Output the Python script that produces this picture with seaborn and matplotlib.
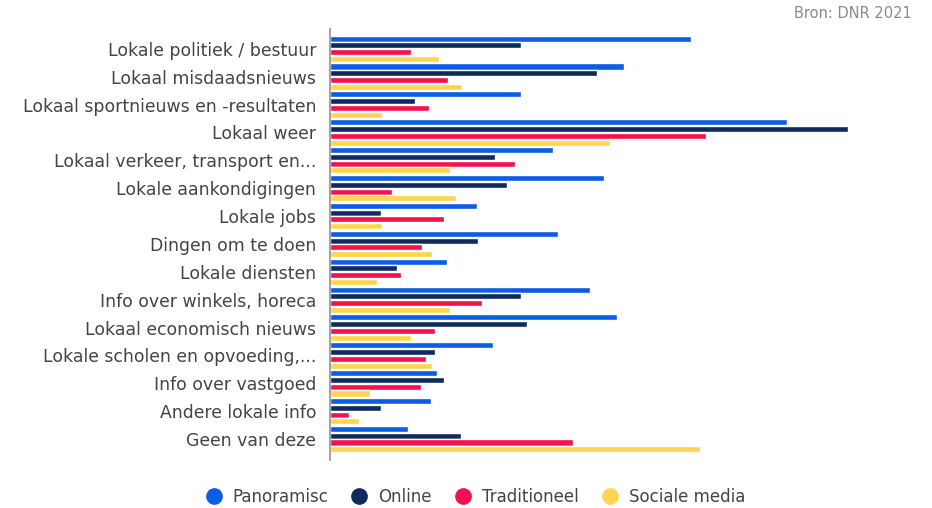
import numpy as np
import pandas as pd
import matplotlib.pyplot as plt
import seaborn as sns
from matplotlib.lines import Line2D

# Categories and values (relative scale, no axis shown)
categories = [
    "Lokale politiek / bestuur",
    "Lokaal misdaadsnieuws",
    "Lokaal sportnieuws en -resultaten",
    "Lokaal weer",
    "Lokaal verkeer, transport en...",
    "Lokale aankondigingen",
    "Lokale jobs",
    "Dingen om te doen",
    "Lokale diensten",
    "Info over winkels, horeca",
    "Lokaal economisch nieuws",
    "Lokale scholen en opvoeding,...",
    "Info over vastgoed",
    "Andere lokale info",
    "Geen van deze",
]
series = ["Panoramisc", "Online", "Traditioneel", "Sociale media"]

panoramisc = [361, 294, 191, 457, 223, 274, 147, 228, 117, 260, 287, 163, 107, 101, 78]
online = [191, 267, 85, 518, 165, 177, 51, 148, 67, 191, 197, 105, 114, 51, 131]
traditioneel = [81, 118, 99, 376, 185, 62, 114, 92, 71, 152, 105, 96, 91, 19, 243]
sociale_media = [109, 132, 52, 280, 120, 126, 52, 102, 47, 120, 81, 102, 40, 29, 370]

colors = ["#0B5CE6", "#0F2A5E", "#F5104E", "#FFD54D"]

df = pd.DataFrame({
    "categorie": categories * 4,
    "kanaal": np.repeat(series, len(categories)),
    "waarde": panoramisc + online + traditioneel + sociale_media,
})

sns.set_style("white")
plt.rcParams["font.family"] = ["DejaVu Sans"]

fig = plt.figure(figsize=(9.32, 5.08), dpi=100)
# axes spans pixel rows 29..460 and columns 330..900
ax = fig.add_axes([330 / 932, 48 / 508, 570 / 932, 431 / 508])

sns.barplot(data=df, y="categorie", x="waarde", hue="kanaal", order=categories,
            hue_order=series, palette=colors, saturation=1, orient="h",
            width=0.97, gap=0.1, legend=False, ax=ax)

ax.set_xlim(0, 570)
ax.set_ylim(14.75, -0.71)
ax.set_xlabel("")
ax.set_ylabel("")
ax.set_xticks([])
ax.tick_params(axis="y", length=0, pad=10, labelsize=12.4, labelcolor="#444444")
for side in ["top", "right", "bottom"]:
    ax.spines[side].set_visible(False)
ax.spines["left"].set_color("#9a9a9a")
ax.spines["left"].set_linewidth(1.3)

fig.text(912 / 932, 1 - 13 / 508, "Bron: DNR 2021", ha="right", va="center",
         fontsize=10.5, color="#8a8a8a")

handles = [Line2D([], [], marker="o", linestyle="", markersize=11,
                  markerfacecolor=c, markeredgecolor=c) for c in colors]
fig.legend(handles, series, loc="center", bbox_to_anchor=(471 / 932, 1 - 497 / 508),
           ncol=4, frameon=False, fontsize=12, handletextpad=0.15,
           columnspacing=0.85, labelcolor="#444444")

fig.savefig("out.png", dpi=100)
